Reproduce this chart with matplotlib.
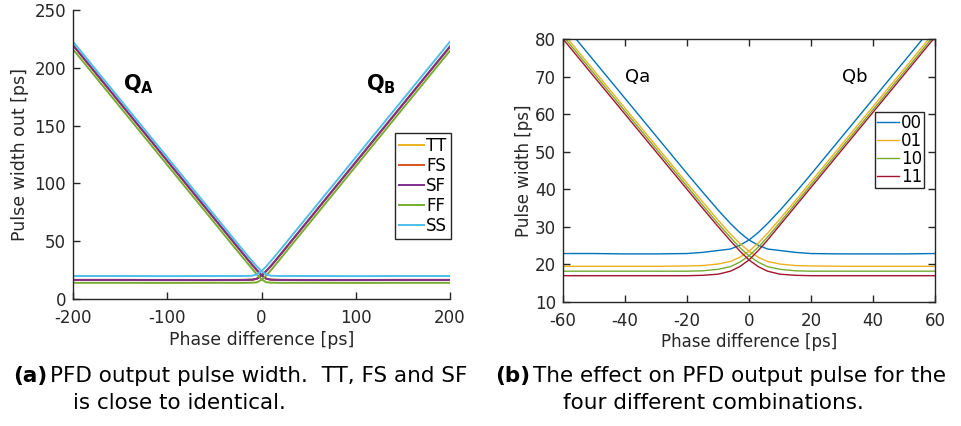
import matplotlib
matplotlib.use('Agg')
import matplotlib.pyplot as plt

plt.rcParams['font.family'] = ['DejaVu Sans']
plt.rcParams['axes.unicode_minus'] = False

# ---------------- Panel (a): process corners ----------------
phase_a = [-200, -150, -100, -50, -20, -10, -5, 0, 5, 10, 20, 50, 100, 150, 200]
corner_names = ['TT', 'FS', 'SF', 'FF', 'SS']

qa_TT = [219.7, 169.7, 119.7, 69.7, 39.7, 29.8, 25.1, 20.7, 17.7, 16.8, 16.6, 16.5, 16.5, 16.6, 16.6]
qa_FS = [219.4, 169.4, 119.4, 69.4, 39.4, 29.6, 24.9, 20.5, 17.5, 16.6, 16.4, 16.3, 16.3, 16.4, 16.4]
qa_SF = [219.6, 169.6, 119.6, 69.6, 39.6, 29.7, 25.0, 20.6, 17.6, 16.7, 16.5, 16.4, 16.4, 16.5, 16.5]
qa_FF = [216.0, 166.0, 116.0, 66.0, 36.0, 26.2, 21.3, 17.0, 14.5, 14.1, 14.0, 14.0, 13.9, 14.0, 14.0]
qa_SS = [222.6, 172.6, 122.6, 72.6, 42.6, 32.9, 28.2, 24.1, 21.2, 20.1, 19.9, 19.9, 19.8, 19.9, 19.9]

qb_TT = [16.6, 16.6, 16.5, 16.5, 16.6, 16.8, 17.6, 20.4, 24.3, 28.7, 38.5, 68.5, 118.5, 168.5, 218.5]
qb_FS = [16.4, 16.4, 16.3, 16.3, 16.4, 16.6, 17.4, 20.2, 24.1, 28.5, 38.3, 68.3, 118.3, 168.3, 218.3]
qb_SF = [16.5, 16.5, 16.4, 16.4, 16.5, 16.7, 17.5, 20.3, 24.2, 28.6, 38.4, 68.4, 118.4, 168.4, 218.4]
qb_FF = [14.0, 14.0, 13.9, 14.0, 14.0, 14.1, 14.4, 16.5, 20.2, 24.9, 34.8, 64.8, 114.8, 164.8, 214.8]
qb_SS = [19.9, 19.9, 19.8, 19.9, 19.9, 20.1, 21.2, 24.1, 28.2, 32.9, 42.6, 72.6, 122.6, 172.6, 222.6]

corner_colors = ['#EDB120', '#D95319', '#7E2F8E', '#77AC30', '#4DBEEE']
qa_a = [qa_TT, qa_FS, qa_SF, qa_FF, qa_SS]
qb_a = [qb_TT, qb_FS, qb_SF, qb_FF, qb_SS]

xticks_a = [-200, -100, 0, 100, 200]
yticks_a = [0, 50, 100, 150, 200, 250]

# ---------------- Panel (b): four combinations ----------------
phase_b = [-60, -50, -40, -30, -20, -15, -10, -6, -3, 0, 3, 6, 10, 15, 20, 30, 40, 50, 60]
combo_names = ['00', '01', '10', '11']

qa_00 = [84.2, 74.2, 64.2, 54.2, 44.2, 39.3, 34.5, 30.9, 28.5, 26.5, 25.1, 24.1, 23.7, 23.2, 22.9, 22.8, 22.8, 22.8, 22.9]
qa_01 = [81.6, 71.6, 61.6, 51.6, 41.6, 36.7, 31.8, 28.1, 25.6, 23.5, 21.9, 20.8, 20.1, 19.7, 19.6, 19.5, 19.5, 19.5, 19.5]
qa_10 = [80.8, 70.8, 60.8, 50.8, 40.8, 35.8, 30.9, 27.2, 24.5, 22.3, 20.6, 19.4, 18.7, 18.3, 18.2, 18.2, 18.2, 18.2, 18.2]
qa_11 = [80.0, 70.0, 60.0, 50.0, 40.0, 35.0, 30.1, 26.3, 23.6, 21.2, 19.4, 18.2, 17.4, 17.1, 17.0, 17.0, 17.0, 17.0, 17.0]

qb_00 = [22.9, 22.9, 22.8, 22.8, 22.9, 23.2, 23.7, 24.1, 25.1, 26.5, 28.5, 30.9, 34.4, 39.1, 44.0, 54.0, 64.0, 74.0, 84.0]
qb_01 = [19.5, 19.5, 19.5, 19.5, 19.6, 19.7, 20.1, 20.8, 21.9, 23.5, 25.7, 28.3, 32.1, 37.0, 42.0, 52.0, 62.0, 72.0, 82.0]
qb_10 = [18.2, 18.2, 18.2, 18.2, 18.2, 18.3, 18.7, 19.4, 20.6, 22.3, 24.6, 27.3, 31.2, 36.2, 41.2, 51.2, 61.2, 71.2, 81.2]
qb_11 = [17.0, 17.0, 17.0, 17.0, 17.0, 17.1, 17.4, 18.2, 19.4, 21.2, 23.7, 26.5, 30.5, 35.5, 40.5, 50.5, 60.5, 70.5, 80.5]

combo_colors = ['#0072BD', '#EDB120', '#77AC30', '#A2142F']
qa_b = [qa_00, qa_01, qa_10, qa_11]
qb_b = [qb_00, qb_01, qb_10, qb_11]

xticks_b = [-60, -40, -20, 0, 20, 40, 60]
yticks_b = [10, 20, 30, 40, 50, 60, 70, 80]

# ---------------- Figure ----------------
W, H = 962, 426
fig = plt.figure(figsize=(W / 100, H / 100), dpi=100)
axcol = '#262626'


def px_axes(l, r, t, b):
    return fig.add_axes([l / W, (H - b) / H, (r - l) / W, (b - t) / H])


# ----- left axes -----
ax1 = px_axes(73, 450, 10, 299)
for name, col, ya, yb in zip(corner_names, corner_colors, qa_a, qb_a):
    ax1.plot(phase_a, ya, color=col, lw=1.4, label=name)
    ax1.plot(phase_a, yb, color=col, lw=1.4)
ax1.set_xlim(-200, 200)
ax1.set_ylim(0, 250)
ax1.set_xticks(xticks_a)
ax1.set_yticks(yticks_a)
ax1.spines['top'].set_visible(False)
ax1.spines['right'].set_visible(False)
ax1.text(-130, 186, r'$\mathbf{Q}_{\mathbf{A}}$', fontsize=15, ha='center', va='center', color='black')
ax1.text(127, 186, r'$\mathbf{Q}_{\mathbf{B}}$', fontsize=15, ha='center', va='center', color='black')
ax1.set_xlabel('Phase difference [ps]', fontsize=12.5, color=axcol)
ax1.set_ylabel('Pulse width out [ps]', fontsize=12.5, color=axcol)
ax1.xaxis.set_label_coords(0.5, (299 - 340) / 289)
ax1.xaxis.label.set_va('center')
ax1.yaxis.set_label_coords((20 - 73) / 377, 0.5)
ax1.yaxis.label.set_va('center')
leg1 = ax1.legend(loc='upper right', bbox_to_anchor=(1.003, (299 - 133) / 289), fontsize=12,
                  fancybox=False, framealpha=1, edgecolor=axcol, borderpad=0.25,
                  labelspacing=0.12, handlelength=1.5, handletextpad=0.1, borderaxespad=0)
leg1.get_frame().set_linewidth(1.0)

# ----- right axes -----
ax2 = px_axes(563, 935, 39, 302)
for name, col, ya, yb in zip(combo_names, combo_colors, qa_b, qb_b):
    ax2.plot(phase_b, ya, color=col, lw=1.0, label=name)
    ax2.plot(phase_b, yb, color=col, lw=1.0)
ax2.set_xlim(-60, 60)
ax2.set_ylim(10, 80)
ax2.set_xticks(xticks_b)
ax2.set_yticks(yticks_b)
ax2.text(-36, 70, 'Qa', fontsize=13, ha='center', va='center', color='black')
ax2.text(34, 70, 'Qb', fontsize=13, ha='center', va='center', color='black')
ax2.set_xlabel('Phase difference [ps]', fontsize=12, color=axcol)
ax2.set_ylabel('Pulse width [ps]', fontsize=12, color=axcol)
ax2.xaxis.set_label_coords(0.5, (302 - 342) / 263)
ax2.xaxis.label.set_va('center')
ax2.yaxis.set_label_coords((524 - 563) / 372, 0.5)
ax2.yaxis.label.set_va('center')
leg2 = ax2.legend(loc='upper right', bbox_to_anchor=((924 - 563) / 372, (302 - 112) / 263), fontsize=12,
                  fancybox=False, framealpha=1, edgecolor=axcol, borderpad=0.12,
                  labelspacing=0.0, handlelength=1.3, handletextpad=0.1, borderaxespad=0)
leg2.get_frame().set_linewidth(1.0)

for ax in (ax1, ax2):
    for sp in ax.spines.values():
        sp.set_color(axcol)
        sp.set_linewidth(1.0)
    ax.tick_params(direction='in', length=5, width=1.0, color=axcol, labelcolor=axcol,
                   labelsize=12)
    ax.tick_params(axis='x', pad=7)
    ax.tick_params(axis='y', pad=5)
ax2.tick_params(top=True, right=True)

# ----- captions -----
cap_y1 = 1 - 376 / H
cap_y2 = 1 - 403 / H
cap_fs = 15.5
fig.text(13 / W, cap_y1, '(a)', fontsize=cap_fs, fontweight='bold', va='center', ha='left')
fig.text(50 / W, cap_y1, 'PFD output pulse width.  TT, FS and SF', fontsize=cap_fs, va='center', ha='left')
fig.text(73 / W, cap_y2, 'is close to identical.', fontsize=cap_fs, va='center', ha='left')
fig.text(495 / W, cap_y1, '(b)', fontsize=cap_fs, fontweight='bold', va='center', ha='left')
fig.text(533 / W, cap_y1, 'The effect on PFD output pulse for the', fontsize=cap_fs, va='center', ha='left')
fig.text(563 / W, cap_y2, 'four different combinations.', fontsize=cap_fs, va='center', ha='left')

fig.savefig('out.png', dpi=100)
